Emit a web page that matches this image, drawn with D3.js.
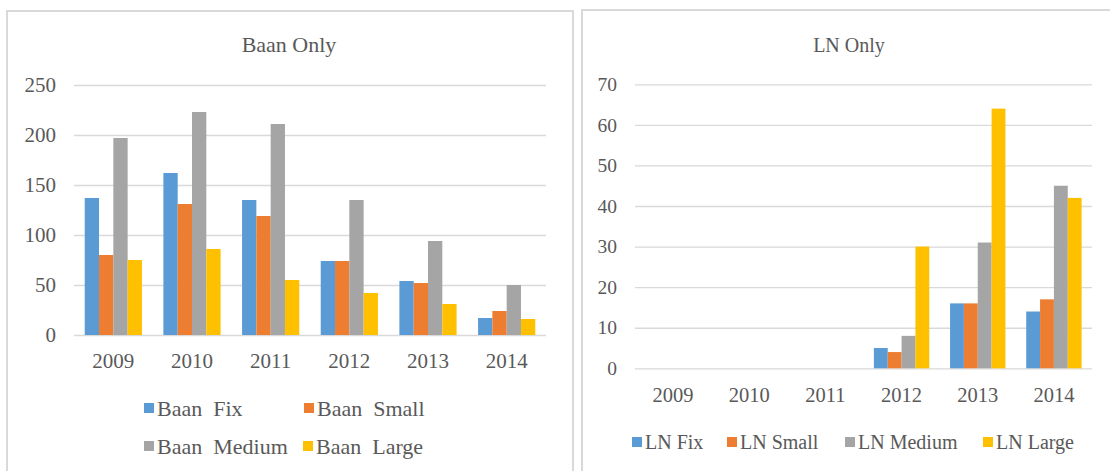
<!DOCTYPE html>
<html>
<head>
<meta charset="utf-8">
<script src="https://cdn.jsdelivr.net/npm/d3@7"></script>
<style>
  html, body { margin: 0; padding: 0; background: #fff; }
  svg text { font-family: "Liberation Serif", "Times New Roman", serif !important; white-space: pre; }
</style>
</head>
<body>
<svg id="chart" width="1110" height="471"></svg>
<script>
// categories
const years = ['2009', '2010', '2011', '2012', '2013', '2014'];

// Baan Only
const baanSeries = ['Baan  Fix', 'Baan  Small', 'Baan  Medium', 'Baan  Large'];
const baanFix    = [137, 162, 135, 74, 54, 17];
const baanSmall  = [80, 131, 119, 74, 52, 24];
const baanMedium = [197, 223, 211, 135, 94, 50];
const baanLarge  = [75, 86, 55, 42, 31, 16];
const baanTicks  = [0, 50, 100, 150, 200, 250];

// LN Only
const lnSeries = ['LN Fix', 'LN Small', 'LN Medium', 'LN Large'];
const lnFix    = [0, 0, 0, 5, 16, 14];
const lnSmall  = [0, 0, 0, 4, 16, 17];
const lnMedium = [0, 0, 0, 8, 31, 45];
const lnLarge  = [0, 0, 0, 30, 64, 42];
const lnTicks  = [0, 10, 20, 30, 40, 50, 60, 70];

const colors = ['#5B9BD5', '#ED7D31', '#A5A5A5', '#FFC000'];
const textColor = '#595959';
const gridColor = '#d9d9d9';

const svg = d3.select('#chart');

// panel frames
svg.append('rect')
    .attr('x', 7).attr('y', 11).attr('width', 566).attr('height', 480)
    .attr('fill', 'none').attr('stroke', gridColor).attr('stroke-width', 2);
svg.append('rect')
    .attr('x', 582).attr('y', 10).attr('width', 560).attr('height', 480)
    .attr('fill', 'none').attr('stroke', gridColor).attr('stroke-width', 2);

function drawPanel(cfg) {
    const g = svg.append('g');
    const series = [cfg.s0, cfg.s1, cfg.s2, cfg.s3];

    // Excel style: gap width 150% of a bar
    const x0 = d3.scaleBand()
        .domain(years)
        .range([cfg.left, cfg.right])
        .paddingInner(1.5 / 5.5)
        .paddingOuter(0.75 / 5.5);

    const x1 = d3.scaleBand()
        .domain(d3.range(series.length))
        .range([0, x0.bandwidth()]);

    const y = d3.scaleLinear()
        .domain([0, cfg.max])
        .range([cfg.bottom, cfg.top]);

    // gridlines + y labels
    const yAxis = g.append('g')
        .attr('transform', `translate(${cfg.left},0)`)
        .call(d3.axisLeft(y).tickValues(cfg.ticks)
            .tickSize(-(cfg.right - cfg.left)).tickPadding(cfg.yPad));
    yAxis.select('.domain').remove();
    yAxis.selectAll('line').attr('stroke', gridColor).attr('stroke-width', 1.3);
    yAxis.selectAll('text')
        .attr('fill', textColor)
        .attr('font-size', cfg.yFont);

    // x labels
    const xAxis = g.append('g')
        .attr('transform', `translate(0,${cfg.bottom})`)
        .call(d3.axisBottom(x0).tickSize(0).tickPadding(cfg.xPad));
    xAxis.select('.domain').remove();
    xAxis.selectAll('text')
        .attr('fill', textColor)
        .attr('font-size', cfg.xFont);

    // bars
    series.forEach((vals, si) => {
        g.append('g')
            .selectAll('rect')
            .data(vals)
            .join('rect')
            .attr('x', (d, i) => x0(years[i]) + x1(si))
            .attr('y', d => y(d))
            .attr('width', x1.bandwidth())
            .attr('height', d => cfg.bottom - y(d))
            .attr('fill', colors[si]);
    });

    // title
    g.append('text')
        .attr('x', cfg.titleX)
        .attr('y', 52)
        .attr('text-anchor', 'middle')
        .attr('fill', textColor)
        .attr('font-size', cfg.titleFont)
        .text(cfg.title);

    // legend
    cfg.names.forEach((name, i) => {
        const pos = cfg.legend[i];
        const item = g.append('g').attr('transform', `translate(${pos[0]},${pos[1]})`);
        item.append('rect')
            .attr('x', 0).attr('y', -5)
            .attr('width', 10).attr('height', 10)
            .attr('fill', colors[i]);
        item.append('text')
            .attr('x', 13)
            .attr('y', 0)
            .attr('dy', '0.35em')
            .attr('fill', textColor)
            .attr('font-size', cfg.legendFont)
            .text(name);
    });
}

drawPanel({
    title: 'Baan Only', titleX: 289, titleFont: 22,
    s0: baanFix, s1: baanSmall, s2: baanMedium, s3: baanLarge,
    names: baanSeries, ticks: baanTicks, max: 250,
    left: 74, right: 546, top: 85, bottom: 335,
    yPad: 18, xPad: 18, yFont: 21, xFont: 21,
    legend: [[144, 408], [304, 408], [144, 446], [303, 446]],
    legendFont: 22
});

drawPanel({
    title: 'LN Only', titleX: 849, titleFont: 20,
    s0: lnFix, s1: lnSmall, s2: lnMedium, s3: lnLarge,
    names: lnSeries, ticks: lnTicks, max: 70,
    left: 635, right: 1092, top: 84.3, bottom: 368.3,
    yPad: 18, xPad: 19, yFont: 19.5, xFont: 20.5,
    legend: [[632, 442], [727, 442], [845, 442], [983, 442]],
    legendFont: 20
});
</script>
</body>
</html>
